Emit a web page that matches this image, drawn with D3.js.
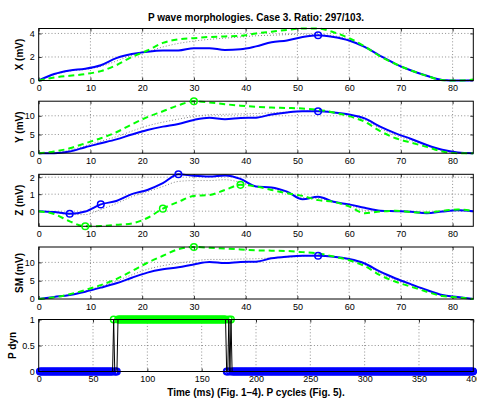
<!DOCTYPE html>
<html><head><meta charset="utf-8">
<script src="https://cdn.jsdelivr.net/npm/d3@7/dist/d3.min.js"></script>
<style>
body{margin:0;background:#fff}
svg{display:block}
text{font-family:"Liberation Sans",Arial,Helvetica,sans-serif;fill:#000}
</style>
</head><body>
<svg id="chart" width="477" height="400"></svg>
<script>
// ---------- data ----------
const timeMs = [0,3,6,9,12,15,18,21,24,27,30,33,36,39,42,45,48,51,54,57,60,63,66,69,72,75,78,81,84];

const xBlue  = [0,0.55,0.85,1.0,1.3,1.9,2.25,2.45,2.55,2.55,2.75,2.75,2.6,2.65,2.9,3.25,3.4,3.7,3.85,3.7,3.4,2.85,2.1,1.4,0.85,0.4,0.05,0,0.03];
const xGreen = [0,0.25,0.4,0.55,0.8,1.3,2.0,2.55,3.2,3.5,3.6,3.7,3.75,3.8,4.0,4.15,4.3,4.42,4.42,4.1,3.6,2.9,2.05,1.4,0.85,0.4,0.03,0,0.08];
const xGray  = [0,0.5,0.8,0.95,1.2,1.65,2.15,2.45,2.85,3.15,3.35,3.5,3.6,3.7,3.8,3.85,3.9,3.95,3.9,3.8,3.5,2.87,2.08,1.4,0.85,0.4,0.04,0,0.05];

const yBlue  = [0,0,0.45,1.6,2.65,3.7,5.0,6.2,7.1,7.8,8.9,9.5,9.1,9.4,9.5,10.35,10.9,11.2,11.2,10.9,10.35,9.3,7.1,5.3,3.8,2.2,0.9,0.2,0];
const yGreen = [0,0.45,1.3,2.65,4.0,5.6,7.7,9.65,11.2,12.8,13.9,13.55,13.1,12.7,12.4,12.2,12.1,11.95,11.6,10.9,9.9,8.4,5.9,4.0,2.8,1.7,0.45,0,0];
const yGray  = [0,0.15,0.8,2.0,3.2,4.4,5.9,7.3,8.3,9.1,9.8,10.3,10.4,10.5,10.6,10.8,11.0,11.2,11.4,11.0,10.2,8.9,6.6,4.8,3.4,2.0,0.7,0.1,0];

const zBlue  = [0,-0.05,-0.15,-0.02,0.4,0.6,1.0,1.25,1.65,2.17,2.08,2.04,2.1,1.9,1.45,1.4,1.15,0.7,0.85,0.55,0.4,0.2,0.03,0,-0.03,-0.12,-0.02,0.05,0];
const zGreen = [0,-0.17,-0.6,-0.89,-0.87,-0.8,-0.72,-0.4,0.15,0.55,0.9,0.95,1.25,1.55,1.45,1.25,1.05,0.9,0.65,0.55,0.28,-0.12,-0.02,0.02,-0.05,-0.08,0.02,0.1,0];
const zGray  = [0,-0.08,-0.2,-0.2,0.1,0.45,0.85,1.15,1.45,1.75,1.8,1.8,1.85,1.7,1.45,1.35,1.1,0.8,0.75,0.55,0.35,0.05,0.01,0.01,-0.04,-0.1,0,0.07,0];

const smBlue  = [0,0.55,1.1,2.0,3.1,4.3,5.8,7.2,8.1,8.65,9.45,10.1,9.8,10.1,10.2,11.1,11.55,11.8,11.8,11.55,10.9,9.7,7.45,5.6,4.0,2.45,1.1,0.55,0];
const smGreen = [0,0.45,1.3,2.45,3.8,5.45,7.6,9.9,11.8,13.6,14.2,14.0,13.8,13.55,13.3,13.2,13.1,12.8,12.45,11.6,10.6,9.0,6.5,4.7,3.35,2.0,0.8,0.45,0];
const smGray  = [0,0.5,1.2,2.2,3.5,4.9,6.6,8.1,9.1,9.8,10.4,10.8,10.8,10.9,11.0,11.2,11.4,11.7,12.0,11.6,10.8,9.4,7.0,5.2,3.7,2.2,0.95,0.5,0];

// marker positions (ms)
const xMarksBlue = [54], xMarksGreen = [];
const yMarksBlue = [54], yMarksGreen = [30];
const zMarksBlue = [6,12,27], zMarksGreen = [9,24,39];
const smMarksBlue = [54], smMarksGreen = [30];

// P dyn per cycle, as runs [length, value]
const pdynRuns = [[68,0],[1,1],[3,0],[100,1],[2,0],[1,1],[1,0],[1,1],[223,0]];

const xTicksMs = [0,10,20,30,40,50,60,70,80];
const xTicksCycles = [0,50,100,150,200,250,300,350,400];
const yTicksX = [0,2,4], yTicksY = [0,5,10], yTicksZ = [0,1,2], yTicksSM = [0,5,10], yTicksP = [0,0.5,1];

const titleText = "P wave morphologies. Case 3. Ratio: 297/103.";
const xLabelText = "Time (ms) (Fig. 1\u20134). P cycles (Fig. 5).";

// ---------- layout ----------
const svg = d3.select("#chart");
const L = 38.7, R = 473.3, PH = 52;
const tops = [28.5, 101.2, 174.3, 247, 319.5];

function drawAxesFrame(g, x, y, xt, yt, top, yfmt) {
  const bottom = top + PH;
  g.append("g").selectAll("line").data(xt.filter(d => x(d) > L + 1 && x(d) < R - 1)).join("line")
    .attr("x1", d => x(d)).attr("x2", d => x(d)).attr("y1", top).attr("y2", bottom)
    .attr("stroke", "#444").attr("stroke-width", 0.6).attr("stroke-dasharray", "1,2.2");
  g.append("g").selectAll("line").data(yt.filter(d => y(d) > top + 1 && y(d) < bottom - 1)).join("line")
    .attr("x1", L).attr("x2", R).attr("y1", d => y(d)).attr("y2", d => y(d))
    .attr("stroke", "#444").attr("stroke-width", 0.6).attr("stroke-dasharray", "1,2.2");
  const tl = 3;
  g.append("g").attr("transform", `translate(0,${bottom})`)
    .call(d3.axisBottom(x).tickValues(xt).tickSizeInner(-tl).tickSizeOuter(0).tickPadding(4))
    .call(s => { s.select(".domain").remove(); s.selectAll("text").attr("font-size", 9).attr("dy", "0.75em").attr("font-family", "Liberation Sans, Arial, sans-serif"); });
  g.append("g").attr("transform", `translate(0,${top})`)
    .call(d3.axisTop(x).tickValues(xt).tickSizeInner(-tl).tickSizeOuter(0).tickFormat(""))
    .call(s => s.select(".domain").remove());
  g.append("g").attr("transform", `translate(${L},0)`)
    .call(d3.axisLeft(y).tickValues(yt).tickSizeInner(-tl).tickSizeOuter(0).tickPadding(4).tickFormat(yfmt))
    .call(s => { s.select(".domain").remove(); s.selectAll("text").attr("font-size", 9).attr("font-family", "Liberation Sans, Arial, sans-serif"); });
  g.append("g").attr("transform", `translate(${R},0)`)
    .call(d3.axisRight(y).tickValues(yt).tickSizeInner(-tl).tickSizeOuter(0).tickFormat(""))
    .call(s => s.select(".domain").remove());
  g.selectAll(".tick line").attr("stroke", "#000").attr("stroke-width", 0.8);
}

function drawFrame(g, top) {
  g.append("rect").attr("x", L).attr("y", top).attr("width", R - L).attr("height", PH)
    .attr("fill", "none").attr("stroke", "#000").attr("stroke-width", 1);
}

const x = d3.scaleLinear().domain([0, 84]).range([L, R]);

const panels = [
  {label: "X (mV)", blue: xBlue, green: xGreen, gray: xGray, mb: xMarksBlue, mg: xMarksGreen, yt: yTicksX},
  {label: "Y (mV)", blue: yBlue, green: yGreen, gray: yGray, mb: yMarksBlue, mg: yMarksGreen, yt: yTicksY},
  {label: "Z (mV)", blue: zBlue, green: zGreen, gray: zGray, mb: zMarksBlue, mg: zMarksGreen, yt: yTicksZ},
  {label: "SM (mV)", blue: smBlue, green: smGreen, gray: smGray, mb: smMarksBlue, mg: smMarksGreen, yt: yTicksSM},
];

panels.forEach((p, i) => {
  const top = tops[i];
  const all = p.blue.concat(p.green, p.gray);
  const y = d3.scaleLinear().domain(d3.extent(all)).range([top + PH, top]);
  const g = svg.append("g");
  drawAxesFrame(g, x, y, xTicksMs, p.yt, top, d3.format("d"));
  const line = d3.line().x((d, k) => x(timeMs[k])).y(d => y(d)).curve(d3.curveMonotoneX);
  g.append("path").datum(p.gray).attr("d", line).attr("fill", "none")
    .attr("stroke", "#777").attr("stroke-width", 0.9).attr("stroke-dasharray", "1,2");
  g.append("path").datum(p.blue).attr("d", line).attr("fill", "none")
    .attr("stroke", "#0000ff").attr("stroke-width", 2);
  g.append("path").datum(p.green).attr("d", line).attr("fill", "none")
    .attr("stroke", "#00ff00").attr("stroke-width", 2).attr("stroke-dasharray", "6,4");
  drawFrame(g, top);
  g.selectAll("circle.mb").data(p.mb).join("circle").attr("class", "mb")
    .attr("cx", d => x(d)).attr("cy", d => y(p.blue[timeMs.indexOf(d)])).attr("r", 3.3)
    .attr("fill", "none").attr("stroke", "#0000ff").attr("stroke-width", 1.5);
  g.selectAll("circle.mg").data(p.mg).join("circle").attr("class", "mg")
    .attr("cx", d => x(d)).attr("cy", d => y(p.green[timeMs.indexOf(d)])).attr("r", 3.3)
    .attr("fill", "none").attr("stroke", "#00ff00").attr("stroke-width", 1.5);
  g.append("text").attr("transform", `translate(22.5,${top + PH / 2}) rotate(-90)`)
    .attr("text-anchor", "middle").attr("font-size", 10).attr("font-weight", "bold").text(p.label);
});

// ---------- panel 5 ----------
{
  const top = tops[4];
  const pdyn = pdynRuns.flatMap(([n, v]) => Array(n).fill(v));
  const cyc = pdyn.map((v, i) => ({c: i + 1, v}));
  const x5 = d3.scaleLinear().domain([0, 400]).range([L, R]);
  const y5 = d3.scaleLinear().domain([0, 1]).range([top + PH, top]);
  const g = svg.append("g");
  drawAxesFrame(g, x5, y5, xTicksCycles, yTicksP, top, d => d === 0.5 ? "0.5" : d3.format("d")(d));
  g.selectAll("circle.p").data(cyc).join("circle").attr("class", "p")
    .attr("cx", d => x5(d.c)).attr("cy", d => y5(d.v)).attr("r", 3.2)
    .attr("fill", "none").attr("stroke", d => d.v ? "#00ff00" : "#0000ff").attr("stroke-width", 1.4);
  drawFrame(g, top);
  g.append("path").datum(cyc).attr("d", d3.line().x(d => x5(d.c)).y(d => y5(d.v)))
    .attr("fill", "none").attr("stroke", "#000").attr("stroke-width", 1);
  g.append("text").attr("transform", `translate(15.5,${top + PH / 2}) rotate(-90)`)
    .attr("text-anchor", "middle").attr("font-size", 10).attr("font-weight", "bold").text("P dyn");
}

svg.append("text").attr("x", (L + R) / 2).attr("y", 20.5).attr("text-anchor", "middle")
  .attr("font-size", 10).attr("font-weight", "bold").text(titleText);
svg.append("text").attr("x", (L + R) / 2).attr("y", 395.5).attr("text-anchor", "middle")
  .attr("font-size", 10).attr("font-weight", "bold").text(xLabelText);
</script>
</body></html>
